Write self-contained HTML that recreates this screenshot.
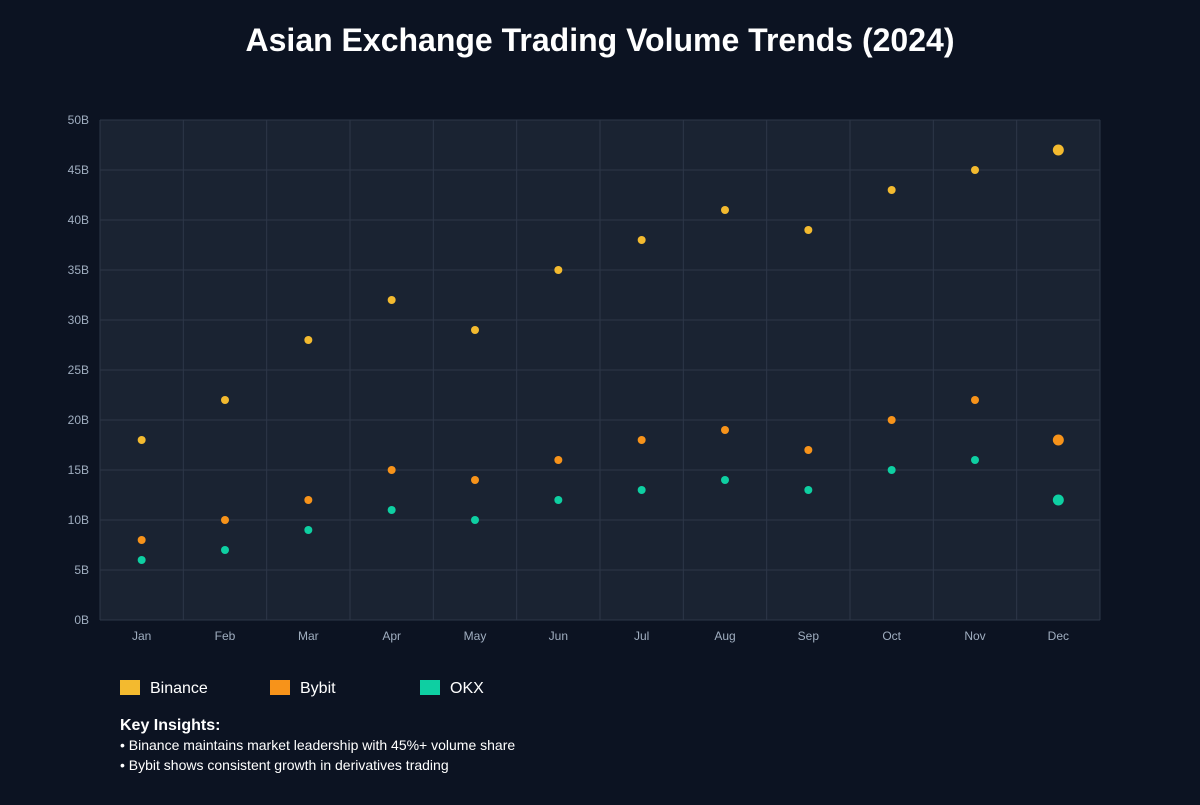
<!DOCTYPE html>
<html><head><meta charset="utf-8"><style>
body{margin:0;background:#0c1322;width:1200px;height:800px;overflow:hidden;font-family:"Liberation Sans",sans-serif;}
</style></head><body>
<svg width="1200" height="800" id="chart" font-family="Liberation Sans, sans-serif">
<rect width="1200" height="800" fill="#0c1322"/>
<text x="600" y="51" text-anchor="middle" font-size="32" font-weight="bold" fill="#ffffff">Asian Exchange Trading Volume Trends (2024)</text>
<rect x="100" y="120" width="1000" height="500" fill="#1a2332"/>
<g id="grid"></g><g id="marks"></g>
<g>
<rect x="120" y="680" width="20" height="15" fill="#f3ba2f"/>
<text x="150" y="693" font-size="16" fill="#ffffff">Binance</text>
<rect x="270" y="680" width="20" height="15" fill="#f7931a"/>
<text x="300" y="693" font-size="16" fill="#ffffff">Bybit</text>
<rect x="420" y="680" width="20" height="15" fill="#0ecfa2"/>
<text x="450" y="693" font-size="16" fill="#ffffff">OKX</text>
</g>
<text x="120" y="730" font-size="16" font-weight="bold" fill="#ffffff">Key Insights:</text>
<text x="120" y="750" font-size="14" fill="#ffffff">• Binance maintains market leadership with 45%+ volume share</text>
<text x="120" y="770" font-size="14" fill="#ffffff">• Bybit shows consistent growth in derivatives trading</text>
</svg>
<script>
const categories=["Jan","Feb","Mar","Apr","May","Jun","Jul","Aug","Sep","Oct","Nov","Dec"];
const binance=[18,22,28,32,29,35,38,41,39,43,45,47];
const bybit=[8,10,12,15,14,16,18,19,17,20,22,18];
const okx=[6,7,9,11,10,12,13,14,13,15,16,12];
const yTicks=[0,5,10,15,20,25,30,35,40,45,50];
const NS="http://www.w3.org/2000/svg";
const X0=100,X1=1100,Y0=620,Y1=120,YMAX=50;
const bw=(X1-X0)/categories.length;
const xs=i=>X0+bw*(i+0.5);
const ys=v=>Y0-(v/YMAX)*(Y0-Y1);
function mk(t,a,p){const e=document.createElementNS(NS,t);for(const k in a)e.setAttribute(k,a[k]);p.appendChild(e);return e;}
const g=document.getElementById('grid'),m=document.getElementById('marks');
yTicks.forEach(v=>{
 const l=mk('line',{x1:X0,x2:X1,y1:ys(v),y2:ys(v),stroke:'#2d3748','stroke-width':1},g);
 
 
 const t=mk('text',{x:89,y:ys(v)+4,'text-anchor':'end','font-size':12,fill:'#a0aec0'},g);
 t.textContent=v+'B';
 
 
});
for(let i=0;i<=categories.length;i++){
 const x=X0+bw*i;
 const l=mk('line',{x1:x,x2:x,y1:Y1,y2:Y0,stroke:'#2d3748','stroke-width':1},g);
 
 
}
categories.forEach((c,i)=>{
 const t=mk('text',{x:xs(i),y:640,'text-anchor':'middle','font-size':12,fill:'#a0aec0'},g);
 t.textContent=c;
 
 
});
[[binance,'#f3ba2f','binance'],[bybit,'#f7931a','bybit'],[okx,'#0ecfa2','okx']].forEach(([arr,col,n])=>{
 arr.forEach((v,i)=>{
  const c=mk('circle',{cx:xs(i),cy:ys(v),r:i===arr.length-1?5.5:4,fill:col},m);
  
  
 });
});
</script>
</body></html>
